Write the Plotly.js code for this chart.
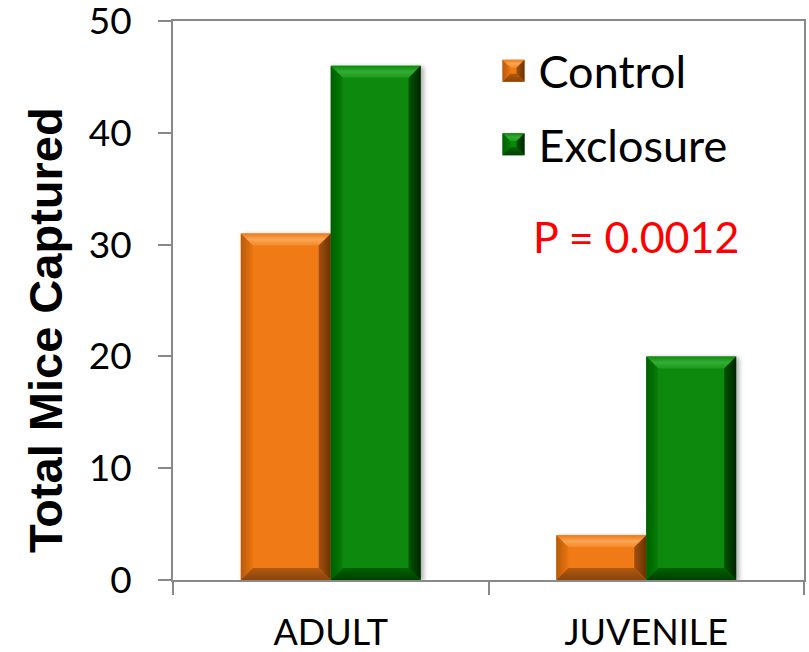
<!DOCTYPE html>
<html>
<head>
<meta charset="utf-8">
<script src="https://cdn.plot.ly/plotly-3.0.1.min.js"></script>
<style>html,body{margin:0;padding:0;background:#fff}</style>
</head>
<body>
<div id="chart" style="width:809px;height:652px"></div>
<script>
// Mice captured per age class, control plots vs. exclosures
const categories = ['ADULT', 'JUVENILE'];
const controlCounts = [31, 4];
const exclosureCounts = [46, 20];
const seriesNames = ['Control', 'Exclosure'];
const yTickValues = [0, 10, 20, 30, 40, 50];
const yAxisLabel = 'Total Mice Captured';
const pValueLabel = 'P = 0.0012';

// face colour plus gradient stops for the four bevel facets
const palettes = [
  {
    face: '#F07A14',
    top: ['#EC7A1A', '#FAA552', '#F48A2A'],
    left: ['#B85A0E', '#E9740F'],
    right: ['#A2500A', '#6A3204'],
    bottom: ['#B2590F', '#8A4308']
  },
  {
    face: '#078A07',
    top: ['#0A8A0A', '#35AC35', '#1C991C'],
    left: ['#045E04', '#077E07'],
    right: ['#035203', '#002400'],
    bottom: ['#056205', '#034003']
  }
];

const axisColor = '#898989';
const bodyFont = 'Lato, "Open Sans", sans-serif';

const traces = [controlCounts, exclosureCounts].map((vals, i) => ({
  type: 'bar',
  name: seriesNames[i],
  x: categories,
  y: vals,
  marker: {color: palettes[i].face, line: {width: 0}},
  legendgroup: 'g' + i
}));

const layout = {
  width: 809,
  height: 652,
  margin: {l: 173, r: 5, t: 21, b: 72},
  paper_bgcolor: '#fff',
  plot_bgcolor: '#fff',
  barmode: 'group',
  bargap: 0.43,
  bargroupgap: 0,
  showlegend: true,
  legend: {
    x: 0.5, y: 0.975, xanchor: 'left', yanchor: 'top',
    font: {family: bodyFont, size: 45, color: '#000'},
    bgcolor: 'rgba(0,0,0,0)',
    traceorder: 'grouped',
    tracegroupgap: 12,
    itemwidth: 40
  },
  xaxis: {
    type: 'category',
    showline: true, linecolor: axisColor, linewidth: 2, mirror: true,
    ticks: 'outside', tickson: 'boundaries', ticklen: 13, tickwidth: 2, tickcolor: axisColor,
    tickfont: {family: bodyFont, size: 36, color: '#000'},
    showgrid: false, zeroline: false,
    ticklabelstandoff: 20
  },
  yaxis: {
    range: [0, 50],
    tickmode: 'array',
    tickvals: yTickValues,
    ticktext: yTickValues.map(String),
    ticklabeloverflow: 'allow',
    showline: true, linecolor: axisColor, linewidth: 2, mirror: true,
    ticks: 'outside', ticklen: 13, tickwidth: 2, tickcolor: axisColor,
    tickfont: {family: bodyFont, size: 37, color: '#000'},
    showgrid: false, zeroline: false,
    ticklabelstandoff: 19
  },
  annotations: [
    {
      text: pValueLabel,
      xref: 'paper', yref: 'paper',
      x: 0.734, y: 0.614, xanchor: 'center', yanchor: 'middle',
      showarrow: false,
      font: {family: bodyFont, size: 43, color: '#FF0000'}
    },
    {
      text: '<b>' + yAxisLabel + '</b>',
      xref: 'paper', yref: 'paper',
      x: -0.203, y: 0.447, xanchor: 'center', yanchor: 'middle',
      textangle: -90,
      showarrow: false,
      font: {family: '"Liberation Sans", Arial, sans-serif', size: 47, color: '#000'}
    }
  ]
};

const NS = 'http://www.w3.org/2000/svg';

function makeGradient(defs, id, stops, vertical) {
  const g = document.createElementNS(NS, 'linearGradient');
  g.setAttribute('id', id);
  g.setAttribute('x1', '0'); g.setAttribute('y1', '0');
  g.setAttribute('x2', vertical ? '0' : '1'); g.setAttribute('y2', vertical ? '1' : '0');
  stops.forEach((c, k) => {
    const s = document.createElementNS(NS, 'stop');
    s.setAttribute('offset', stops.length === 1 ? '0' : String(k / (stops.length - 1)));
    s.setAttribute('stop-color', c);
    g.appendChild(s);
  });
  defs.appendChild(g);
}

// four bevel facets drawn over a rectangle
function addBevel(group, x0, y0, x1, y1, b, idx) {
  const facets = [
    [[x0, y0], [x1, y0], [x1 - b, y0 + b], [x0 + b, y0 + b], 'top'],
    [[x0, y0], [x0 + b, y0 + b], [x0 + b, y1 - b], [x0, y1], 'left'],
    [[x1, y0], [x1, y1], [x1 - b, y1 - b], [x1 - b, y0 + b], 'right'],
    [[x0, y1], [x0 + b, y1 - b], [x1 - b, y1 - b], [x1, y1], 'bottom']
  ];
  facets.forEach(f => {
    const poly = document.createElementNS(NS, 'polygon');
    poly.setAttribute('points', f.slice(0, 4).map(p => p.join(',')).join(' '));
    poly.setAttribute('fill', `url(#bev-${idx}-${f[4]})`);
    group.appendChild(poly);
  });
}

Plotly.newPlot('chart', traces, layout, {staticPlot: true}).then(gd => {
  const svg = gd.querySelector('.main-svg');
  const defs = svg.querySelector('defs');

  palettes.forEach((p, i) => {
    makeGradient(defs, `bev-${i}-top`, p.top, true);
    makeGradient(defs, `bev-${i}-bottom`, p.bottom, true);
    makeGradient(defs, `bev-${i}-left`, p.left, false);
    makeGradient(defs, `bev-${i}-right`, p.right, false);
  });

  // soft drop shadow behind the bars
  const filt = document.createElementNS(NS, 'filter');
  filt.setAttribute('id', 'barShadow');
  filt.setAttribute('x', '-20%'); filt.setAttribute('y', '-20%');
  filt.setAttribute('width', '140%'); filt.setAttribute('height', '140%');
  const ds = document.createElementNS(NS, 'feDropShadow');
  ds.setAttribute('dx', '3'); ds.setAttribute('dy', '1');
  ds.setAttribute('stdDeviation', '2');
  ds.setAttribute('flood-color', '#000'); ds.setAttribute('flood-opacity', '0.3');
  filt.appendChild(ds);
  defs.appendChild(filt);

  gd.querySelectorAll('.barlayer .trace').forEach((tr, i) => {
    tr.querySelectorAll('.point').forEach(pt => {
      const path = pt.querySelector('path');
      const bb = path.getBBox();
      pt.setAttribute('filter', 'url(#barShadow)');
      const b = Math.min(12, bb.height / 3, bb.width / 3);
      addBevel(pt, bb.x, bb.y, bb.x + bb.width, bb.y + bb.height, b, i);
    });
  });

  // enlarge the legend swatches and bevel them like the bars
  gd.querySelectorAll('.legend .traces').forEach((tr, i) => {
    const path = tr.querySelector('.legendpoints path');
    const s = 11;
    path.setAttribute('d', `M${s},${s}H${-s}V${-s}H${s}Z`);
    path.style.fill = palettes[i].face;
    path.style.stroke = 'none';
    const holder = document.createElementNS(NS, 'g');
    const tf = path.getAttribute('transform');
    if (tf) holder.setAttribute('transform', tf);
    path.parentNode.insertBefore(holder, path.nextSibling);
    addBevel(holder, -s, -s, s, s, 8, i);
  });
});
</script>
</body>
</html>
